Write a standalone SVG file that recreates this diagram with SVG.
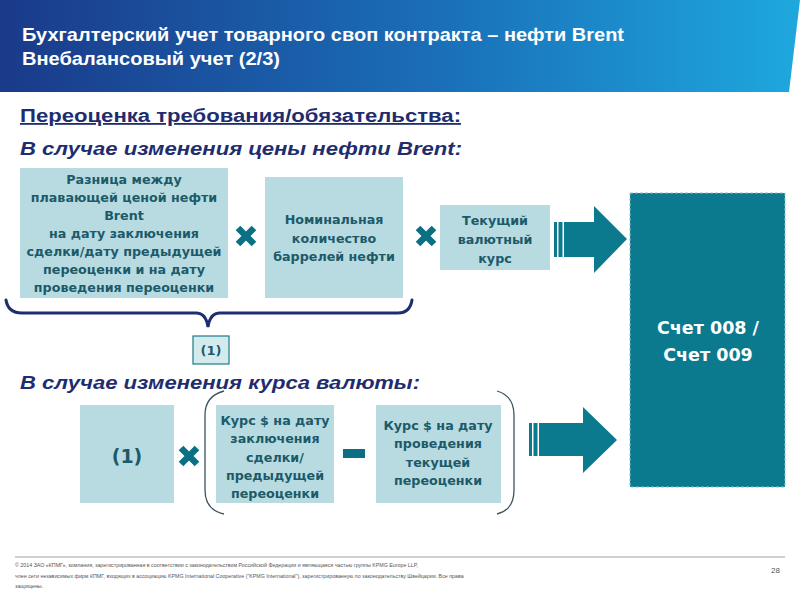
<svg xmlns="http://www.w3.org/2000/svg" width="800" height="600" viewBox="0 0 800 600">
<defs>
<linearGradient id="hdr" x1="0" y1="0" x2="1" y2="0">
<stop offset="0" stop-color="#1a3a8a"/>
<stop offset="0.55" stop-color="#1a6fb8"/>
<stop offset="1" stop-color="#1ea8de"/>
</linearGradient>
<path id="xmark" d="M-8,-8 L8,8 M8,-8 L-8,8"/>
</defs>
<style>
.title{font-family:"Liberation Sans",Arial,sans-serif;font-weight:bold;font-size:19px;fill:#ffffff}
.head{font-family:"Liberation Sans",Arial,sans-serif;font-weight:bold;font-size:18px;fill:#1f2d6e}
.box{fill:#b8dbe1}
.bt{font-family:"DejaVu Sans",Verdana,sans-serif;font-weight:bold;font-size:12.7px;fill:#1c5a6a;text-anchor:middle}
.xm{stroke:#0b7084;stroke-width:6.5;fill:none}
.arrow{fill:#0b7a8e}
.brace{fill:none;stroke:#1d2f6f;stroke-width:3;stroke-linecap:round}
.paren{fill:none;stroke:#3a5560;stroke-width:1.3}
.foot{font-family:"Liberation Sans",Arial,sans-serif;font-size:5.3px;fill:#555}
.acc{font-family:"DejaVu Sans",Verdana,sans-serif;font-weight:bold;font-size:17.5px;fill:#ffffff;text-anchor:middle}
</style>
<rect width="800" height="600" fill="#ffffff"/>
<g id="header">
<path d="M0,0 H800 L789,92 H0 Z" fill="url(#hdr)"/>
<text class="title" x="22" y="41" textLength="602" lengthAdjust="spacingAndGlyphs">Бухгалтерский учет товарного своп контракта – нефти Brent</text>
<text class="title" x="22" y="65" textLength="258" lengthAdjust="spacingAndGlyphs">Внебалансовый учет (2/3)</text>
</g>
<g id="headings">
<text class="head" x="20" y="122" text-decoration="underline" textLength="441" lengthAdjust="spacingAndGlyphs">Переоценка требования/обязательства:</text>
<text class="head" x="20" y="155" font-style="italic" textLength="442" lengthAdjust="spacingAndGlyphs">В случае изменения цены нефти Brent:</text>
<text class="head" x="20" y="389" font-style="italic" textLength="400" lengthAdjust="spacingAndGlyphs">В случае изменения курса валюты:</text>
</g>
<g id="box-diff">
<rect class="box" x="20" y="168" width="208" height="130"/>
<text class="bt" x="124" y="184">Разница между</text>
<text class="bt" x="124" y="202">плавающей ценой нефти</text>
<text class="bt" x="124" y="220">Brent</text>
<text class="bt" x="124" y="238">на дату заключения</text>
<text class="bt" x="124" y="256">сделки/дату предыдущей</text>
<text class="bt" x="124" y="274">переоценки и на дату</text>
<text class="bt" x="124" y="292">проведения переоценки</text>
</g>
<g id="box-nominal">
<rect class="box" x="265" y="177" width="138" height="121"/>
<text class="bt" x="334" y="224">Номинальная</text>
<text class="bt" x="334" y="243">количество</text>
<text class="bt" x="334" y="261">баррелей нефти</text>
</g>
<g id="box-rate">
<rect class="box" x="440" y="205" width="110" height="65"/>
<text class="bt" x="495" y="225">Текущий</text>
<text class="bt" x="495" y="244">валютный</text>
<text class="bt" x="495" y="263">курс</text>
</g>
<g id="box-account">
<rect x="630" y="193" width="155" height="294" fill="#0b7a8f" stroke="#8fc3cc" stroke-width="1" stroke-dasharray="3,2"/>
<text class="acc" x="708" y="334">Счет 008 /</text>
<text class="acc" x="708" y="361">Счет 009</text>
</g>
<g id="ref1">
<rect x="193" y="336" width="36" height="28" fill="#d4ebee" stroke="#1c7a8a" stroke-width="1.2"/>
<text class="bt" x="211" y="355" style="font-size:13px">(1)</text>
</g>
<g id="box-one">
<rect class="box" x="80" y="405" width="94" height="98"/>
<text class="bt" x="127" y="463" style="font-size:19px">(1)</text>
</g>
<g id="box-rate-prev">
<rect class="box" x="216" y="405" width="118" height="98"/>
<text class="bt" x="275" y="425">Курс $ на дату</text>
<text class="bt" x="275" y="443">заключения</text>
<text class="bt" x="275" y="462">сделки/</text>
<text class="bt" x="275" y="480">предыдущей</text>
<text class="bt" x="275" y="498">переоценки</text>
</g>
<g id="box-rate-cur">
<rect class="box" x="376" y="405" width="125" height="98"/>
<text class="bt" x="438" y="430">Курс $ на дату</text>
<text class="bt" x="438" y="448">проведения</text>
<text class="bt" x="438" y="467">текущей</text>
<text class="bt" x="438" y="485">переоценки</text>
</g>
<g id="connectors">
<use href="#xmark" class="xm" x="246" y="236"/>
<use href="#xmark" class="xm" x="426" y="236"/>
<use href="#xmark" class="xm" x="189" y="456"/>
<rect x="343" y="449" width="22" height="9" fill="#0b7084"/>
<path class="brace" d="M6,300 Q8,313 22,313 H196 Q206,313 208,327 Q210,313 220,313 H398 Q410,313 412,300"/>
<path class="paren" d="M224,391 Q205,396 205,415 V490 Q205,510 224,514"/>
<path class="paren" d="M497,391 Q514,396 514,415 V490 Q514,510 497,514"/>
<g class="arrow">
<rect x="554" y="222" width="3" height="35"/>
<rect x="558.5" y="222" width="4" height="35"/>
<path d="M564,222 H594 V206 L627,239 L594,273 V257 H564 Z"/>
<rect x="529" y="423" width="3" height="33"/>
<rect x="533.5" y="423" width="4" height="33"/>
<path d="M539,423 H583 V407 L617,440 L583,473 V456 H539 Z"/>
</g>
</g>
<g id="footer">
<line x1="15" y1="557" x2="785" y2="557" stroke="#888" stroke-width="0.8"/>
<text class="foot" x="15" y="567">© 2014 ЗАО «КПМГ», компания, зарегистрированная в соответствии с законодательством Российской Федерации и являющаяся частью группы KPMG Europe LLP,</text>
<text class="foot" x="15" y="578">член сети независимых фирм КПМГ, входящих в ассоциацию KPMG International Cooperative ("KPMG International"), зарегистрированную по законодательству Швейцарии. Все права</text>
<text class="foot" x="15" y="588">защищены.</text>
<text x="780" y="573" font-family="'Liberation Sans',Arial,sans-serif" font-size="8" fill="#555" text-anchor="end">28</text>
</g>
</svg>
